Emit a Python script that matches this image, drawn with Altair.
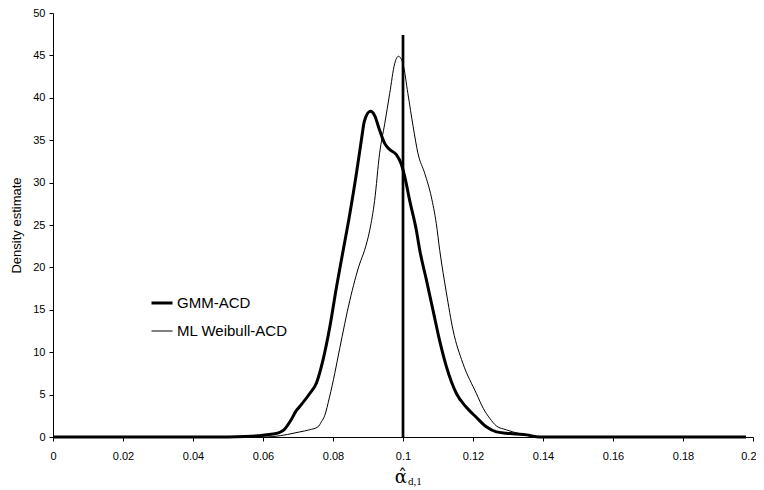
import altair as alt
import pandas as pd

series_names = ["GMM-ACD", "ML Weibull-ACD"]

gmm_x = [0, 0.05, 0.055, 0.060, 0.0628, 0.0648, 0.066, 0.068, 0.0695, 0.0705, 0.0733,
         0.0753, 0.0771, 0.0791, 0.081, 0.0829, 0.0848, 0.0867, 0.0881, 0.089, 0.0907,
         0.0919, 0.0933, 0.0948, 0.0962, 0.0981, 0.0995, 0.1005, 0.1019, 0.1038, 0.1048,
         0.1067, 0.1086, 0.1105, 0.1124, 0.1153, 0.1181, 0.121, 0.1238, 0.1267, 0.1295,
         0.1325, 0.1353, 0.139, 0.198]
gmm_y = [0, 0, 0.05, 0.2, 0.35, 0.55, 0.85, 2.0, 3.1, 3.6, 5.1,
         6.4, 9.0, 13.0, 17.7, 22.0, 26.3, 31.1, 35.0, 37.3, 38.4,
         37.9, 36.2, 34.6, 33.9, 33.3, 32.2, 30.7, 27.9, 24.4, 22.0,
         18.5, 14.9, 11.3, 8.3, 5.1, 3.5, 2.3, 1.2, 0.6, 0.45,
         0.35, 0.25, 0.0, 0]

ml_x = [0, 0.06, 0.0629, 0.067, 0.0705, 0.0733, 0.0757, 0.0767, 0.0776, 0.079, 0.0805,
        0.0819, 0.0848, 0.0876, 0.089, 0.0905, 0.0919, 0.0933, 0.0948, 0.0962, 0.0976,
        0.0987, 0.1, 0.1014, 0.1029, 0.1043, 0.1062, 0.1081, 0.1095, 0.1105, 0.1124,
        0.1143, 0.1171, 0.121, 0.1229, 0.1248, 0.1267, 0.1295, 0.1314, 0.1343, 0.138, 0.198]
ml_y = [0, 0, 0.05, 0.3, 0.6, 0.85, 1.2, 1.8, 2.5, 4.7, 7.5,
        10.4, 16.1, 20.4, 22.0, 24.4, 27.9, 33.4, 37.0, 40.5, 44.0,
        44.9, 44.0, 40.5, 36.6, 33.4, 31.1, 28.3, 25.2, 22.0, 17.0,
        12.6, 8.7, 5.1, 3.4, 2.2, 1.3, 0.85, 0.6, 0.3, 0, 0]

ref_x = [0.1]
ref_bottom = [0]
ref_top = [47.4]

x_ticks = [0, 0.02, 0.04, 0.06, 0.08, 0.1, 0.12, 0.14, 0.16, 0.18, 0.2]
y_ticks = [0, 5, 10, 15, 20, 25, 30, 35, 40, 45, 50]

axis_title_main = ["\u03b1\u0302"]
axis_title_sub = ["d,1"]

df = pd.concat([
    pd.DataFrame({"x": gmm_x, "y": gmm_y, "series": series_names[0]}),
    pd.DataFrame({"x": ml_x, "y": ml_y, "series": series_names[1]}),
], ignore_index=True)

ref_df = pd.DataFrame({"x": ref_x, "bottom": ref_bottom, "top": ref_top})
title_df = pd.DataFrame({"x": ref_x, "main": axis_title_main, "sub": axis_title_sub})

xscale = alt.Scale(domain=[0, 0.2], nice=False, zero=False)
yscale = alt.Scale(domain=[0, 50], nice=False)

lines = alt.Chart(df).mark_line(interpolate="monotone", color="black").encode(
    x=alt.X("x:Q", scale=xscale,
            axis=alt.Axis(values=x_ticks, format="~g", title=None, labelPadding=9,
                          labelFlush=True, labelFlushOffset=3)),
    y=alt.Y("y:Q", scale=yscale,
            axis=alt.Axis(values=y_ticks, title="Density estimate", labelPadding=4,
                          titlePadding=9, titleFontSize=13, titleFont="Liberation Sans",
                          titleFontWeight="normal", titleColor="black")),
    strokeWidth=alt.StrokeWidth(
        "series:N",
        scale=alt.Scale(domain=series_names, range=[3, 1]),
        legend=alt.Legend(title=None, orient="none", legendX=97, legendY=278,
                          symbolType="stroke", symbolSize=441, symbolStrokeColor="black",
                          labelFontSize=15, labelFont="Liberation Sans", labelColor="black",
                          labelOffset=3, rowPadding=9, padding=0),
    ),
)

rule = alt.Chart(ref_df).mark_rule(color="black", strokeWidth=2.7).encode(
    x=alt.X("x:Q", scale=xscale),
    y=alt.Y("bottom:Q", scale=yscale),
    y2="top:Q",
)

title_main = alt.Chart(title_df).mark_text(
    font="DejaVu Serif", fontSize=18, align="right", baseline="alphabetic", dx=4,
    color="black"
).encode(x=alt.X("x:Q", scale=xscale), y=alt.value(470), text="main:N")

title_sub = alt.Chart(title_df).mark_text(
    font="Liberation Serif", fontSize=11, align="left", baseline="alphabetic", dx=5,
    color="black"
).encode(x=alt.X("x:Q", scale=xscale), y=alt.value(472), text="sub:N")

chart = alt.layer(lines, rule, title_main, title_sub).properties(
    width=700, height=424,
    autosize=alt.AutoSizeParams(type="none"),
    padding={"left": 45, "top": 5, "right": 3, "bottom": 50},
).configure_view(stroke=None).configure_axis(
    grid=False, domainColor="black", tickColor="black", labelColor="black",
    labelFont="Liberation Sans", labelFontSize=11, tickSize=4, domainWidth=1,
)

chart.save("out.html", embed_options={"renderer": "svg", "actions": False})
